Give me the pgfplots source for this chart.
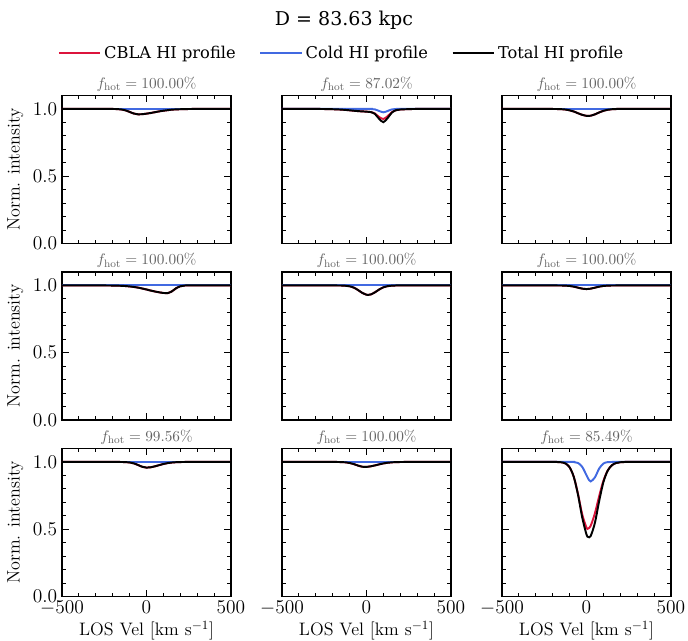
\RequirePackage{fix-cm}
\documentclass[border=0pt]{standalone}
\usepackage{fontspec}
\usepackage{pgfplots}
\pgfplotsset{compat=1.18}
\usepgfplotslibrary{groupplots}
\usetikzlibrary{calc}
\newfontfamily\dvs{DejaVu Serif}
\definecolor{cbla}{RGB}{220,20,60}
\definecolor{cold}{RGB}{65,105,225}
\definecolor{tgray}{RGB}{100,100,100}
\begin{document}
\begin{tikzpicture}
\pgfplotsset{
  every axis/.append style={
    scale only axis, width=121.68pt, height=106.56pt,
    xmin=-500, xmax=500, ymin=0, ymax=1.1,
    xtick={-500,0,500}, ytick={0,0.5,1},
    minor x tick num=4, minor y tick num=4,
    tick align=inside, tick pos=both,
    major tick length=5pt, minor tick length=2.8pt,
    axis line style={line width=0.9pt},
    every tick/.style={black, line width=0.7pt},
    tick label style={font=\fontsize{14}{16}\selectfont},
    label style={font=\fontsize{13}{15}\selectfont},
    xlabel style={yshift=3pt},
    yticklabel style={/pgf/number format/fixed, /pgf/number format/fixed zerofill, /pgf/number format/precision=1},
    title style={font=\fontsize{11}{13}\selectfont, text=tgray, yshift=-6.5pt},
    clip=false,
  },
  cb/.style={cbla, line width=1.4pt, smooth, no markers},
  cd/.style={cold, line width=1.4pt, smooth, no markers},
  tt/.style={black, line width=1.4pt, smooth, no markers},
}
\begin{groupplot}[group style={group size=3 by 3, horizontal sep=36.72pt, vertical sep=20.52pt,
    xticklabels at=edge bottom, yticklabels at=edge left}]
% ---- row 1 col 1
\nextgroupplot[title={$f_{\mathrm{hot}} = 100.00\%$}, ylabel={Norm. intensity}]
\addplot[cb] coordinates {(-500,1) (-250,1) (-200,1.000) (-175,0.9992) (-150,0.9966) (-125,0.990) (-100,0.978) (-75,0.966) (-50,0.960) (-25,0.961) (0,0.965) (25,0.970) (50,0.976) (75,0.982) (100,0.987) (125,0.991) (150,0.995) (200,0.998) (250,0.9996) (300,1) (500,1)};
\addplot[cd] coordinates {(-500,1) (500,1)};
\addplot[tt] coordinates {(-500,1) (-250,1) (-200,1.000) (-175,0.9992) (-150,0.9966) (-125,0.990) (-100,0.978) (-75,0.966) (-50,0.960) (-25,0.961) (0,0.965) (25,0.970) (50,0.976) (75,0.982) (100,0.987) (125,0.991) (150,0.995) (200,0.998) (250,0.9996) (300,1) (500,1)};
% ---- row 1 col 2
\nextgroupplot[title={$f_{\mathrm{hot}} = 87.02\%$},
  legend columns=3,
  legend style={draw=none, fill=none, at={(0.355,1.284)}, anchor=center,
    font=\dvs\fontsize{11.7}{14}\selectfont,
    /tikz/every even column/.append style={column sep=15pt}},
  legend image code/.code={\draw[#1] (0pt,0pt) -- (24.5pt,0pt); \path (24.5pt,0pt) -- (30pt,0pt);}]
\addplot[cb] coordinates {(-500,1) (-300,1) (-250,0.9995) (-200,0.998) (-150,0.9953) (-100,0.990) (-50,0.984) (0,0.980) (25,0.977) (50,0.966) (75,0.940) (100,0.9255) (125,0.946) (150,0.976) (175,0.991) (200,0.996) (250,0.9986) (300,1) (500,1)};
\addlegendentry{CBLA HI profile}
\addplot[cd] coordinates {(-500,1) (0,1) (25,0.9997) (50,0.9966) (75,0.985) (100,0.975) (125,0.985) (150,0.9966) (175,0.9997) (200,1) (500,1)};
\addlegendentry{Cold HI profile}
\addplot[tt] coordinates {(-500,1) (-300,1) (-250,0.9995) (-200,0.998) (-150,0.9953) (-100,0.990) (-50,0.984) (0,0.980) (25,0.977) (50,0.963) (75,0.926) (100,0.902) (125,0.932) (150,0.973) (175,0.991) (200,0.996) (250,0.9986) (300,1) (500,1)};
\addlegendentry{Total HI profile}
\node[font=\dvs\fontsize{13.7}{16}\selectfont] at (rel axis cs:0.367,1.507) {D = 83.63 kpc};
% ---- row 1 col 3
\nextgroupplot[title={$f_{\mathrm{hot}} = 100.00\%$}]
\addplot[cb] coordinates {(-500,1) (-250,1) (-200,0.9999) (-175,0.9995) (-150,0.9985) (-125,0.9959) (-100,0.990) (-75,0.981) (-50,0.968) (-25,0.956) (0,0.949) (10,0.948) (25,0.950) (50,0.960) (75,0.974) (100,0.986) (125,0.994) (150,0.998) (175,0.9994) (200,1) (500,1)};
\addplot[cd] coordinates {(-500,1) (500,1)};
\addplot[tt] coordinates {(-500,1) (-250,1) (-200,0.9999) (-175,0.9995) (-150,0.9985) (-125,0.9959) (-100,0.990) (-75,0.981) (-50,0.968) (-25,0.956) (0,0.949) (10,0.948) (25,0.950) (50,0.960) (75,0.974) (100,0.986) (125,0.994) (150,0.998) (175,0.9994) (200,1) (500,1)};
% ---- row 2 col 1
\nextgroupplot[title={$f_{\mathrm{hot}} = 100.00\%$}, ylabel={Norm. intensity}]
\addplot[cb] coordinates {(-500,1) (-300,1) (-250,1) (-200,0.9993) (-150,0.9975) (-100,0.993) (-50,0.984) (0,0.970) (25,0.962) (50,0.955) (75,0.949) (100,0.944) (125,0.943) (150,0.956) (175,0.979) (200,0.994) (225,0.999) (250,1) (500,1)};
\addplot[cd] coordinates {(-500,1) (500,1)};
\addplot[tt] coordinates {(-500,1) (-300,1) (-250,1) (-200,0.9993) (-150,0.9975) (-100,0.993) (-50,0.984) (0,0.970) (25,0.962) (50,0.955) (75,0.949) (100,0.944) (125,0.943) (150,0.956) (175,0.979) (200,0.994) (225,0.999) (250,1) (500,1)};
% ---- row 2 col 2
\nextgroupplot[title={$f_{\mathrm{hot}} = 100.00\%$}]
\addplot[cb] coordinates {(-500,1) (-200,1) (-175,0.9999) (-150,0.9996) (-125,0.998) (-100,0.994) (-75,0.984) (-50,0.966) (-25,0.945) (0,0.931) (10,0.930) (25,0.933) (50,0.949) (75,0.970) (100,0.986) (125,0.995) (150,0.9986) (175,0.9997) (200,1) (500,1)};
\addplot[cd] coordinates {(-500,1) (500,1)};
\addplot[tt] coordinates {(-500,1) (-200,1) (-175,0.9999) (-150,0.9996) (-125,0.998) (-100,0.994) (-75,0.984) (-50,0.966) (-25,0.945) (0,0.931) (10,0.930) (25,0.933) (50,0.949) (75,0.970) (100,0.986) (125,0.995) (150,0.9986) (175,0.9997) (200,1) (500,1)};
% ---- row 2 col 3
\nextgroupplot[title={$f_{\mathrm{hot}} = 100.00\%$}]
\addplot[cb] coordinates {(-500,1) (-200,1) (-175,0.9999) (-150,0.9997) (-125,0.9988) (-100,0.9964) (-75,0.9912) (-50,0.9836) (-25,0.9762) (0,0.973) (25,0.9762) (50,0.9836) (75,0.9912) (100,0.9964) (125,0.9988) (150,0.9997) (175,0.9999) (200,1) (500,1)};
\addplot[cd] coordinates {(-500,1) (500,1)};
\addplot[tt] coordinates {(-500,1) (-200,1) (-175,0.9999) (-150,0.9997) (-125,0.9988) (-100,0.9964) (-75,0.9912) (-50,0.9836) (-25,0.9762) (0,0.973) (25,0.9762) (50,0.9836) (75,0.9912) (100,0.9964) (125,0.9988) (150,0.9997) (175,0.9999) (200,1) (500,1)};
% ---- row 3 col 1
\nextgroupplot[title={$f_{\mathrm{hot}} = 99.56\%$}, ylabel={Norm. intensity}, xlabel={LOS Vel [km s$^{-1}$]}]
\addplot[cb] coordinates {(-500,1) (-200,1) (-150,0.9998) (-125,0.9991) (-100,0.9964) (-75,0.9895) (-50,0.9773) (-25,0.964) (0,0.958) (25,0.9606) (50,0.9675) (75,0.9763) (100,0.9849) (125,0.9915) (150,0.9958) (175,0.9982) (200,0.9993) (250,1) (500,1)};
\addplot[cd] coordinates {(-500,1) (500,1)};
\addplot[tt] coordinates {(-500,1) (-200,1) (-150,0.9998) (-125,0.9991) (-100,0.9964) (-75,0.9895) (-50,0.9773) (-25,0.964) (0,0.958) (25,0.9606) (50,0.9675) (75,0.9763) (100,0.9849) (125,0.9915) (150,0.9958) (175,0.9982) (200,0.9993) (250,1) (500,1)};
% ---- row 3 col 2
\nextgroupplot[title={$f_{\mathrm{hot}} = 100.00\%$}, xlabel={LOS Vel [km s$^{-1}$]}]
\addplot[cb] coordinates {(-500,1) (-200,1) (-175,0.9998) (-150,0.9993) (-125,0.9974) (-100,0.9927) (-75,0.9841) (-50,0.9731) (-25,0.9646) (-10,0.963) (0,0.9634) (25,0.9674) (50,0.9744) (75,0.9823) (100,0.9892) (125,0.9942) (150,0.9973) (175,0.9989) (200,0.9996) (250,1) (500,1)};
\addplot[cd] coordinates {(-500,1) (500,1)};
\addplot[tt] coordinates {(-500,1) (-200,1) (-175,0.9998) (-150,0.9993) (-125,0.9974) (-100,0.9927) (-75,0.9841) (-50,0.9731) (-25,0.9646) (-10,0.963) (0,0.9634) (25,0.9674) (50,0.9744) (75,0.9823) (100,0.9892) (125,0.9942) (150,0.9973) (175,0.9989) (200,0.9996) (250,1) (500,1)};
% ---- row 3 col 3
\nextgroupplot[title={$f_{\mathrm{hot}} = 85.49\%$}, xlabel={LOS Vel [km s$^{-1}$]}]
\addplot[cb] coordinates {(-500,1) (-200,1) (-175,0.9997) (-150,0.9978) (-125,0.9894) (-100,0.9606) (-75,0.889) (-50,0.7614) (-25,0.609) (0,0.512) (10,0.505) (25,0.526) (50,0.619) (75,0.746) (100,0.8594) (125,0.9353) (150,0.9753) (175,0.9922) (200,0.9979) (225,0.9996) (250,1) (500,1)};
\addplot[cd] coordinates {(-500,1) (-100,1) (-75,0.9992) (-50,0.9926) (-25,0.963) (0,0.901) (10,0.876) (25,0.8556) (50,0.8855) (75,0.9507) (100,0.9885) (125,0.9985) (150,0.9999) (200,1) (500,1)};
\addplot[tt] coordinates {(-500,1) (-200,1) (-175,0.9997) (-150,0.9978) (-125,0.9894) (-100,0.9606) (-75,0.8883) (-50,0.7558) (-25,0.5865) (0,0.4613) (10,0.4424) (25,0.450) (50,0.548) (75,0.709) (100,0.8495) (125,0.9339) (150,0.9752) (175,0.9922) (200,0.9979) (225,0.9996) (250,1) (500,1)};
\end{groupplot}
\pgfresetboundingbox
\path ($(group c1r1.north west)+(-44.64pt,68.76pt)$) rectangle ($(group c1r1.north west)+(450.72pt,-392.04pt)$);
\end{tikzpicture}
\end{document}
